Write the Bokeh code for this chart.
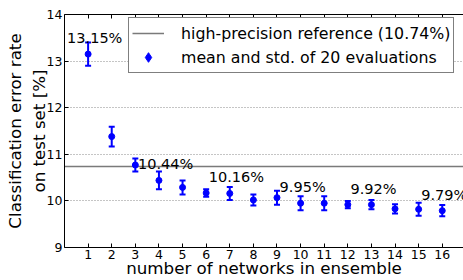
from bokeh.plotting import figure
from bokeh.models import (ColumnDataSource, Whisker, TeeHead, FixedTicker, LinearAxis,
                          Legend, LegendItem, Range1d, CustomJSTickFormatter)
from bokeh.core.properties import value
from bokeh.embed import file_html
from bokeh.resources import INLINE

# ---- data ----
n_networks = [1, 2, 3, 4, 5, 6, 7, 8, 9, 10, 11, 12, 13, 14, 15, 16]
mean_err = [13.15, 11.38, 10.77, 10.44, 10.29, 10.17, 10.16, 10.02,
            10.07, 9.95, 9.95, 9.92, 9.92, 9.83, 9.82, 9.79]
std_err = [0.25, 0.21, 0.14, 0.19, 0.15, 0.08, 0.14, 0.12,
           0.15, 0.15, 0.15, 0.08, 0.10, 0.10, 0.14, 0.12]
annotated = [1, 4, 7, 10, 13, 16]
reference_err = 10.74
n_evals = 20
y_ticks = [9, 10, 11, 12, 13, 14]

FONT = "DejaVu Sans"
BLUE = "#0000ff"

src = ColumnDataSource(dict(
    x=n_networks, y=mean_err,
    lower=[m - s for m, s in zip(mean_err, std_err)],
    upper=[m + s for m, s in zip(mean_err, std_err)],
))
ann_x = [n for n in n_networks if n in annotated]
ann_y = [m for n, m in zip(n_networks, mean_err) if n in annotated]
ann_src = ColumnDataSource(dict(x=ann_x, y=ann_y, label=[f"{v:.2f}%" for v in ann_y]))

p = figure(width=463, height=280, output_backend="svg", toolbar_location=None,
           x_range=Range1d(0, 16.9), y_range=Range1d(9, 14),
           min_border_left=64, min_border_top=14, min_border_bottom=33, min_border_right=0)
p.outline_line_color = None
p.background_fill_color = "white"
p.border_fill_color = "white"

# reference line
ref_r = p.hspan(y=[reference_err], line_color="#7a7a7a", line_width=1.5)

# error bars
wh = Whisker(source=src, base="x", lower="lower", upper="upper", dimension="height",
             line_color=BLUE, line_width=2,
             upper_head=TeeHead(size=6, line_color=BLUE, line_width=2),
             lower_head=TeeHead(size=6, line_color=BLUE, line_width=2))
p.add_layout(wh)
# legend sample glyph for the error-bar entry (hidden under the mean markers)
leg_r = p.scatter(x="x", y="y", source=src, marker="diamond", size=4,
                  fill_color=BLUE, line_color=BLUE, line_width=1)
circ_r = p.scatter(x="x", y="y", source=src, size=6, marker="circle",
                   fill_color=BLUE, line_color=BLUE)

# annotations
p.text(x="x", y="y", text="label", source=ann_src, x_offset=-21, y_offset=-16,
       text_font=value(FONT), text_font_size="14.5px", text_color="black",
       text_baseline="alphabetic", text_align="left")

# axes
for ax in (p.xaxis[0], p.yaxis[0]):
    ax.major_label_text_font = FONT
    ax.major_label_text_font_size = "12.5px"
    ax.major_label_text_color = "black"
    ax.axis_label_text_font = FONT
    ax.axis_label_text_font_size = "16.7px"
    ax.axis_label_text_font_style = "normal"
    ax.axis_label_text_color = "black"
    ax.major_tick_in = 4
    ax.major_tick_out = 0
    ax.minor_tick_in = 0
    ax.minor_tick_out = 0
    ax.axis_line_color = "black"
    ax.major_tick_line_color = "black"

p.xaxis.ticker = FixedTicker(ticks=n_networks)
p.yaxis.ticker = FixedTicker(ticks=y_ticks)
p.xaxis.axis_label = "number of networks in ensemble"
p.yaxis.axis_label = "Classification error rate\non test set [%]"
p.xaxis.major_label_standoff = 2
p.xaxis.axis_label_standoff = -4
p.yaxis.major_label_standoff = 2
p.yaxis.axis_label_standoff = -5

top = LinearAxis(ticker=FixedTicker(ticks=n_networks),
                 formatter=CustomJSTickFormatter(code="return ''"),
                 major_label_standoff=0, major_tick_in=4, major_tick_out=0,
                 minor_tick_in=0, minor_tick_out=0, axis_line_color="black")
p.add_layout(top, "above")

# grid
p.xgrid.grid_line_color = None
p.ygrid.ticker = FixedTicker(ticks=y_ticks)
p.ygrid.grid_line_color = "#8a8a8a"
p.ygrid.grid_line_dash = "1 2"
p.ygrid.grid_line_width = 1

legend = Legend(items=[
    LegendItem(label=f"high-precision reference ({reference_err:.2f}%)", renderers=[ref_r]),
    LegendItem(label=f"mean and std. of {n_evals} evaluations", renderers=[leg_r]),
], location=(64, 174))
legend.label_text_font = FONT
legend.label_text_font_size = "15.8px"
legend.label_text_color = "black"
legend.border_line_color = "black"
legend.border_line_width = 1
legend.background_fill_alpha = 1
legend.padding = 3
legend.spacing = -1
legend.margin = 0
legend.glyph_width = 32
legend.glyph_height = 24
legend.label_height = 20
legend.label_standoff = 17
p.add_layout(legend, "center")

open("out.html", "w").write(file_html(p, INLINE))
